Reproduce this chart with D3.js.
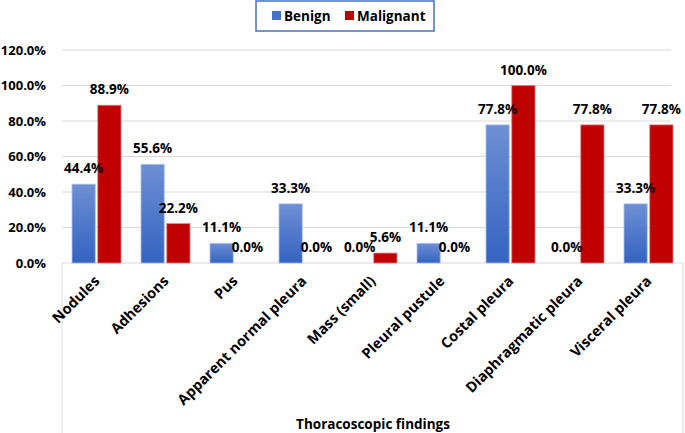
<!DOCTYPE html>
<html>
<head>
<meta charset="utf-8">
<script src="https://cdnjs.cloudflare.com/ajax/libs/d3/7.8.5/d3.min.js"></script>
<style>
  body { margin: 0; background: #fff; }
  text { font-family: "Open Sans", Lato, sans-serif; font-weight: bold; fill: #000; }
</style>
</head>
<body>
<div class="g-chart"></div>
<script>
var categories = ["Nodules", "Adhesions", "Pus", "Apparent normal pleura", "Mass (small)",
                  "Pleural pustule", "Costal pleura", "Diaphragmatic pleura", "Visceral pleura"];
var benign = [44.4, 55.6, 11.1, 33.3, 0.0, 11.1, 77.8, 0.0, 33.3];
var malignant = [88.9, 22.2, 0.0, 0.0, 5.6, 0.0, 100.0, 77.8, 77.8];
var seriesNames = ["Benign", "Malignant"];
var yTicks = [0, 20, 40, 60, 80, 100, 120];

var width = 685, height = 433;
var margin = {top: 50, right: 2, bottom: 170, left: 62};
var colors = {Benign: "#4472c4", Malignant: "#c00000"};
var font = "'Open Sans', Lato, sans-serif";

var svg = d3.select(".g-chart").append("svg")
    .attr("width", width)
    .attr("height", height);

var defs = svg.append("defs");
var grad = defs.append("linearGradient")
    .attr("id", "blueGrad")
    .attr("x1", 0).attr("y1", 0).attr("x2", 0).attr("y2", 1);
grad.append("stop").attr("offset", "0%").attr("stop-color", "#6d8fd4");
grad.append("stop").attr("offset", "100%").attr("stop-color", "#3563c1");

var x0 = d3.scaleBand().domain(categories).range([margin.left, width - margin.right]).paddingInner(0).paddingOuter(0);
var x1 = d3.scaleBand().domain(seriesNames).range([10, x0.bandwidth() - 10]).paddingInner(0.1);
var y = d3.scaleLinear().domain([0, 120]).range([height - margin.bottom, margin.top]);

// frame round the lower area
svg.append("path")
    .attr("d", "M" + margin.left + "," + height + "V" + y(0) + "H" + (width - margin.right) + "V" + height)
    .attr("fill", "none")
    .attr("stroke", "#d9d9d9")
    .attr("stroke-width", 1);

// gridlines
svg.append("g").selectAll("line")
    .data(yTicks.filter(d => d > 0))
    .enter().append("line")
    .attr("x1", margin.left).attr("x2", width - margin.right - 12)
    .attr("y1", d => y(d)).attr("y2", d => y(d))
    .attr("stroke", "#d9d9d9")
    .attr("stroke-width", 1);

// y axis labels
var yAxis = d3.axisLeft(y).tickValues(yTicks).tickSize(0).tickPadding(16)
    .tickFormat(d => d.toFixed(1) + "%");
svg.append("g")
    .attr("transform", "translate(" + margin.left + ",0)")
    .call(yAxis)
    .call(g => g.select(".domain").remove())
    .selectAll("text")
    .style("font-size", "13px")
    .style("font-family", font)
    .style("font-weight", "bold")
    .attr("fill", "#000");

var rows = categories.map((c, i) => ({cat: c, values: [
    {name: "Benign", value: benign[i]},
    {name: "Malignant", value: malignant[i]}
]}));

var groups = svg.selectAll(".cat")
    .data(rows)
    .enter().append("g")
    .attr("class", "cat")
    .attr("transform", d => "translate(" + x0(d.cat) + ",0)");

groups.selectAll("rect")
    .data(d => d.values)
    .enter().append("rect")
    .attr("x", d => x1(d.name))
    .attr("y", d => y(d.value))
    .attr("width", x1.bandwidth())
    .attr("height", d => y(0) - y(d.value))
    .attr("fill", d => d.name === "Benign" ? "url(#blueGrad)" : colors.Malignant)
    .attr("stroke", d => d.name === "Benign" ? "#a9bde6" : "#e08080")
    .attr("stroke-width", 0.8);

groups.selectAll(".lbl")
    .data(d => d.values)
    .enter().append("text")
    .attr("class", "lbl")
    .attr("x", d => x1(d.name) + x1.bandwidth() / 2)
    .attr("y", d => y(d.value) - 11)
    .attr("text-anchor", "middle")
    .style("font-size", "13.5px")
    .text(d => d.value.toFixed(1) + "%");

// x axis labels
var xAxis = d3.axisBottom(x0).tickSize(0).tickPadding(0);
svg.append("g")
    .attr("transform", "translate(0," + y(0) + ")")
    .call(xAxis)
    .call(g => g.select(".domain").remove())
    .selectAll("text")
    .style("font-size", "14.5px")
    .style("font-family", font)
    .style("font-weight", "bold")
    .attr("fill", "#000")
    .attr("text-anchor", "end")
    .attr("dy", "0")
    .attr("transform", "translate(4,19) rotate(-45)");

// axis title
svg.append("text")
    .attr("x", 373)
    .attr("y", 429)
    .attr("text-anchor", "middle")
    .style("font-size", "13.5px")
    .text("Thoracoscopic findings");

// legend
var legend = svg.append("g");
legend.append("rect")
    .attr("x", 256).attr("y", 1)
    .attr("width", 178).attr("height", 30)
    .attr("fill", "#fff")
    .attr("stroke", "#4472c4")
    .attr("stroke-width", 1.5);
var legendX = [272, 345];
seriesNames.forEach(function(s, i) {
    legend.append("rect")
        .attr("x", legendX[i]).attr("y", 11)
        .attr("width", 9).attr("height", 9)
        .attr("fill", colors[s]);
    legend.append("text")
        .attr("x", legendX[i] + 12).attr("y", 21)
        .style("font-size", "13.5px")
        .text(s);
});
</script>
</body>
</html>
